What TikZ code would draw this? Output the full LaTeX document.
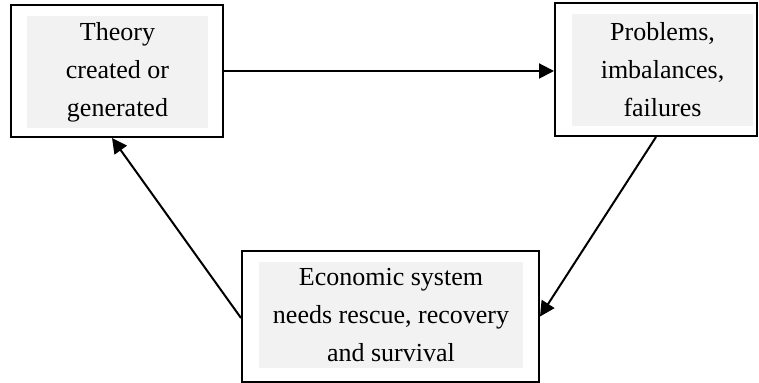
\documentclass[tikz,border=0pt]{standalone}
\usepackage{fontspec}
\setmainfont{Liberation Serif}
\usetikzlibrary{arrows.meta}
\definecolor{panelgrey}{HTML}{F2F2F2}
\begin{document}
\begin{tikzpicture}[x=0.5pt,y=-0.5pt,
  frame/.style={draw=black, line width=1pt, fill=white, inner sep=0pt},
  panel/.style={fill=panelgrey, inner sep=0pt, align=center,
    font=\fontsize{13}{19}\selectfont},
  flow/.style={line width=1pt, -{Triangle[length=7.5pt,width=7.5pt]}}]
\useasboundingbox (0,0) rectangle (759,383);
% outer frames
\node[frame, minimum width=106pt, minimum height=66pt] (A) at (117,71) {};
\node[frame, minimum width=101pt, minimum height=66.5pt] (B) at (656,69.5) {};
\node[frame, minimum width=148.5pt, minimum height=65.5pt] (C) at (390.5,316.5) {};
% shaded text panels
\node[panel, minimum width=90.5pt, minimum height=56pt] (At) at (117.5,72)
  {Theory\\created or\\generated};
\node[panel, minimum width=90.5pt, minimum height=56pt] (Bt) at (662.5,70)
  {Problems,\\imbalances,\\failures};
\node[panel, minimum width=132pt, minimum height=53pt] (Ct) at (391,315)
  {Economic system\\needs rescue, recovery\\and survival};
% cycle connectors
\draw[flow] (A.east) -- (A.east -| B.west);
\draw[flow] (B.south) -- (C.east);
\draw[flow] ([yshift=-0.75pt]C.west) -- ([xshift=-2.5pt]A.south);
\end{tikzpicture}
\end{document}
